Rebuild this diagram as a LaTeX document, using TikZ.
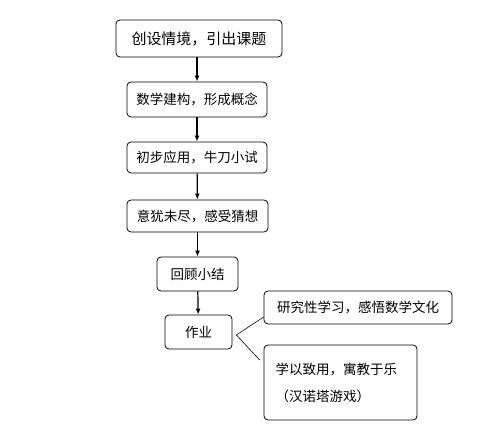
\documentclass[tikz,border=0pt]{standalone}
\usepackage{fontspec}
\newfontfamily\cjk{Noto Sans CJK SC}
\usetikzlibrary{arrows.meta}
\tikzset{
  stage/.style={draw, rounded corners=4pt, line width=0.8pt, inner sep=0pt,
    font=\cjk\fontsize{13.5}{16}\selectfont},
  flow/.style={-{Latex[length=6pt,width=5pt]}, line width=1.2pt},
  branch/.style={line width=0.6pt},
}
\begin{document}
\begin{tikzpicture}[x=1pt,y=-1pt]
        \useasboundingbox (0,0) rectangle (499,425);

        % main chain
        \node[stage, minimum width=166pt, minimum height=37pt, font=\cjk\fontsize{15}{18}\selectfont] (intro) at (199,38.5) {创设情境，引出课题};
        \node[stage, minimum width=140pt, minimum height=35pt] (model) at (197,99.5) {数学建构，形成概念};
        \node[stage, minimum width=140pt, minimum height=31pt] (apply) at (197,157.5) {初步应用，牛刀小试};
        \node[stage, minimum width=141pt, minimum height=32pt] (guess) at (197.5,216) {意犹未尽，感受猜想};
        \node[stage, minimum width=81pt, minimum height=34pt] (review) at (197.5,274) {回顾小结};
        \node[stage, minimum width=67pt, minimum height=34pt] (work) at (198.5,332) {作业};

        % homework branches
        \node[stage, minimum width=188pt, minimum height=33pt] (research) at (358,307.5) {研究性学习，感悟数学文化};
        \node[stage, minimum width=153pt, minimum height=75pt, align=left, text width=130pt,
              font=\cjk\fontsize{13.5}{27}\selectfont] (play) at (340.5,382.5) {学以致用，寓教于乐\\（汉诺塔游戏）};

        \draw[flow] (intro.south -| model.north) -- (model.north);
        \draw[flow] (model) -- (apply);
        \draw[flow] (apply) -- (guess);
        \draw[flow] (guess) -- (review);
        \draw[flow] (review) -- (work);

        \coordinate (fork) at ([xshift=4pt,yshift=-3pt]work.east);
        \draw[branch] (fork) -- ([yshift=-9.5pt]research.west);
        \draw[branch] (fork) -- ([xshift=-4pt,yshift=22.5pt]play.west);
\end{tikzpicture}
\end{document}
